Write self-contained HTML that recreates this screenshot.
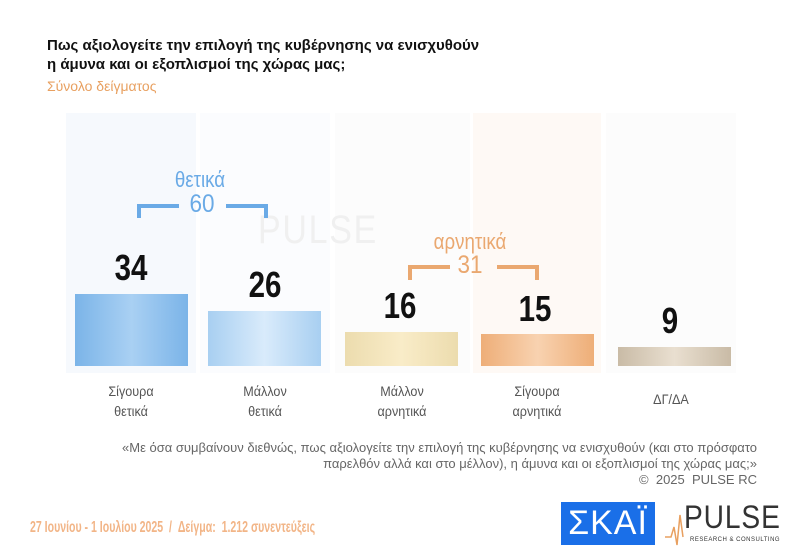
<!DOCTYPE html>
<html><head><meta charset="utf-8"><style>
body{margin:0;width:808px;height:558px;background:#fff;overflow:hidden;position:relative;font-family:"Liberation Sans","DejaVu Sans",sans-serif}
.a{position:absolute}
.t{left:47px;font-weight:bold;font-size:15px;color:#111}
.num{position:absolute;width:120px;text-align:center;font-weight:bold;font-size:36px;color:#111;transform:scaleX(0.82)}
.lab{position:absolute;width:130px;text-align:center;font-size:14px;color:#555;line-height:20px;transform:scaleX(0.9)}
.col{position:absolute;top:113px;height:260px}
.bar{position:absolute;width:113px}
</style></head><body>
<div class="a t" style="top:37px">Πως αξιολογείτε την επιλογή της κυβέρνησης να ενισχυθούν</div>
<div class="a t" style="top:56px">η άμυνα και οι εξοπλισμοί της χώρας μας;</div>
<div class="a" style="left:47px;top:78px;font-size:14px;color:#e8a060">Σύνολο δείγματος</div>

<div class="col" style="left:66px;width:130px;background:#f6f9fd"></div>
<div class="col" style="left:200px;width:130px;background:#fbfcfe"></div>
<div class="col" style="left:335px;width:135px;background:#fcfcfc"></div>
<div class="col" style="left:473px;width:128px;background:#fef9f5"></div>
<div class="col" style="left:606px;width:130px;background:#fcfcfc"></div>

<div class="a" style="left:258px;top:208px;font-size:40px;color:#f0f0f0;letter-spacing:2px;transform:scaleX(0.85);transform-origin:left">PULSE</div>

<div class="bar" style="left:75px;top:294px;height:72px;background:linear-gradient(90deg,#7bb4e8,#a9d0f3 50%,#7bb4e8)"></div>
<div class="bar" style="left:208px;top:311px;height:55px;background:linear-gradient(90deg,#a8cff1,#d9ebfb 50%,#a8cff1)"></div>
<div class="bar" style="left:345px;top:332px;height:34px;background:linear-gradient(90deg,#ecdcae,#f9ecc8 50%,#ecdcae)"></div>
<div class="bar" style="left:481px;top:334px;height:32px;background:linear-gradient(90deg,#eeae78,#f8d2b0 50%,#eeae78)"></div>
<div class="bar" style="left:618px;top:347px;height:19px;background:linear-gradient(90deg,#c9bba6,#e9dfd0 50%,#c9bba6)"></div>

<div class="num" style="left:71px;top:247px">34</div>
<div class="num" style="left:205px;top:264px">26</div>
<div class="num" style="left:340px;top:285px">16</div>
<div class="num" style="left:475px;top:288px">15</div>
<div class="num" style="left:610px;top:300px">9</div>

<div class="a" style="left:140px;top:167px;width:120px;text-align:center;font-size:22px;color:#6aaae6;transform:scaleX(0.85)">θετικά</div>
<div class="a" style="left:137px;top:204px;width:42px;height:14px;border-left:4px solid #6aaae6;border-top:4px solid #6aaae6;box-sizing:border-box"></div>
<div class="a" style="left:226px;top:204px;width:42px;height:14px;border-right:4px solid #6aaae6;border-top:4px solid #6aaae6;box-sizing:border-box"></div>
<div class="a" style="left:170px;top:190px;width:64px;text-align:center;font-size:25px;color:#6aaae6;transform:scaleX(0.9)">60</div>

<div class="a" style="left:405px;top:229px;width:130px;text-align:center;font-size:22px;color:#eaa870;transform:scaleX(0.85)">αρνητικά</div>
<div class="a" style="left:408px;top:265px;width:42px;height:15px;border-left:4px solid #eaa870;border-top:4px solid #eaa870;box-sizing:border-box"></div>
<div class="a" style="left:497px;top:265px;width:42px;height:15px;border-right:4px solid #eaa870;border-top:4px solid #eaa870;box-sizing:border-box"></div>
<div class="a" style="left:442px;top:251px;width:56px;text-align:center;font-size:25px;color:#eaa870;transform:scaleX(0.9)">31</div>

<div class="lab" style="left:66px;top:381px">Σίγουρα<br>θετικά</div>
<div class="lab" style="left:200px;top:381px">Μάλλον<br>θετικά</div>
<div class="lab" style="left:337px;top:381px">Μάλλον<br>αρνητικά</div>
<div class="lab" style="left:472px;top:381px">Σίγουρα<br>αρνητικά</div>
<div class="lab" style="left:606px;top:389px">ΔΓ/ΔΑ</div>

<div class="a" style="right:51px;top:440px;text-align:right;font-size:13px;color:#666;line-height:16px;white-space:nowrap">«Με όσα συμβαίνουν διεθνώς, πως αξιολογείτε την επιλογή της κυβέρνησης να ενισχυθούν (και στο πρόσφατο<br>παρελθόν αλλά και στο μέλλον), η άμυνα και οι εξοπλισμοί της χώρας μας;»<br>©&nbsp; 2025&nbsp; PULSE RC</div>

<div class="a" style="left:30px;top:519px;font-size:16px;font-weight:bold;color:#f2b587;white-space:nowrap;transform:scaleX(0.66);transform-origin:left">27 Ιουνίου - 1 Ιουλίου 2025&nbsp; / &nbsp;Δείγμα:&nbsp; 1.212 συνεντεύξεις</div>

<div class="a" style="left:561px;top:502px;width:94px;height:43px;background:#1a6fe8;color:#fff;font-size:34px;text-align:center;line-height:43px;letter-spacing:1px">ΣΚΑΪ</div>
<svg class="a" style="left:665px;top:505px" width="20" height="45"><polyline points="0,32 6,32 9,22 12,40 15,10 18,32" fill="none" stroke="#e8a060" stroke-width="1.5"/></svg>
<div class="a" style="left:684px;top:499px;font-size:32px;color:#333;letter-spacing:1px;transform:scaleX(0.88);transform-origin:left">PULSE</div>
<div class="a" style="left:690px;top:537px;font-size:6px;color:#333;letter-spacing:0.5px">RESEARCH &amp; CONSULTING</div>
</body></html>
